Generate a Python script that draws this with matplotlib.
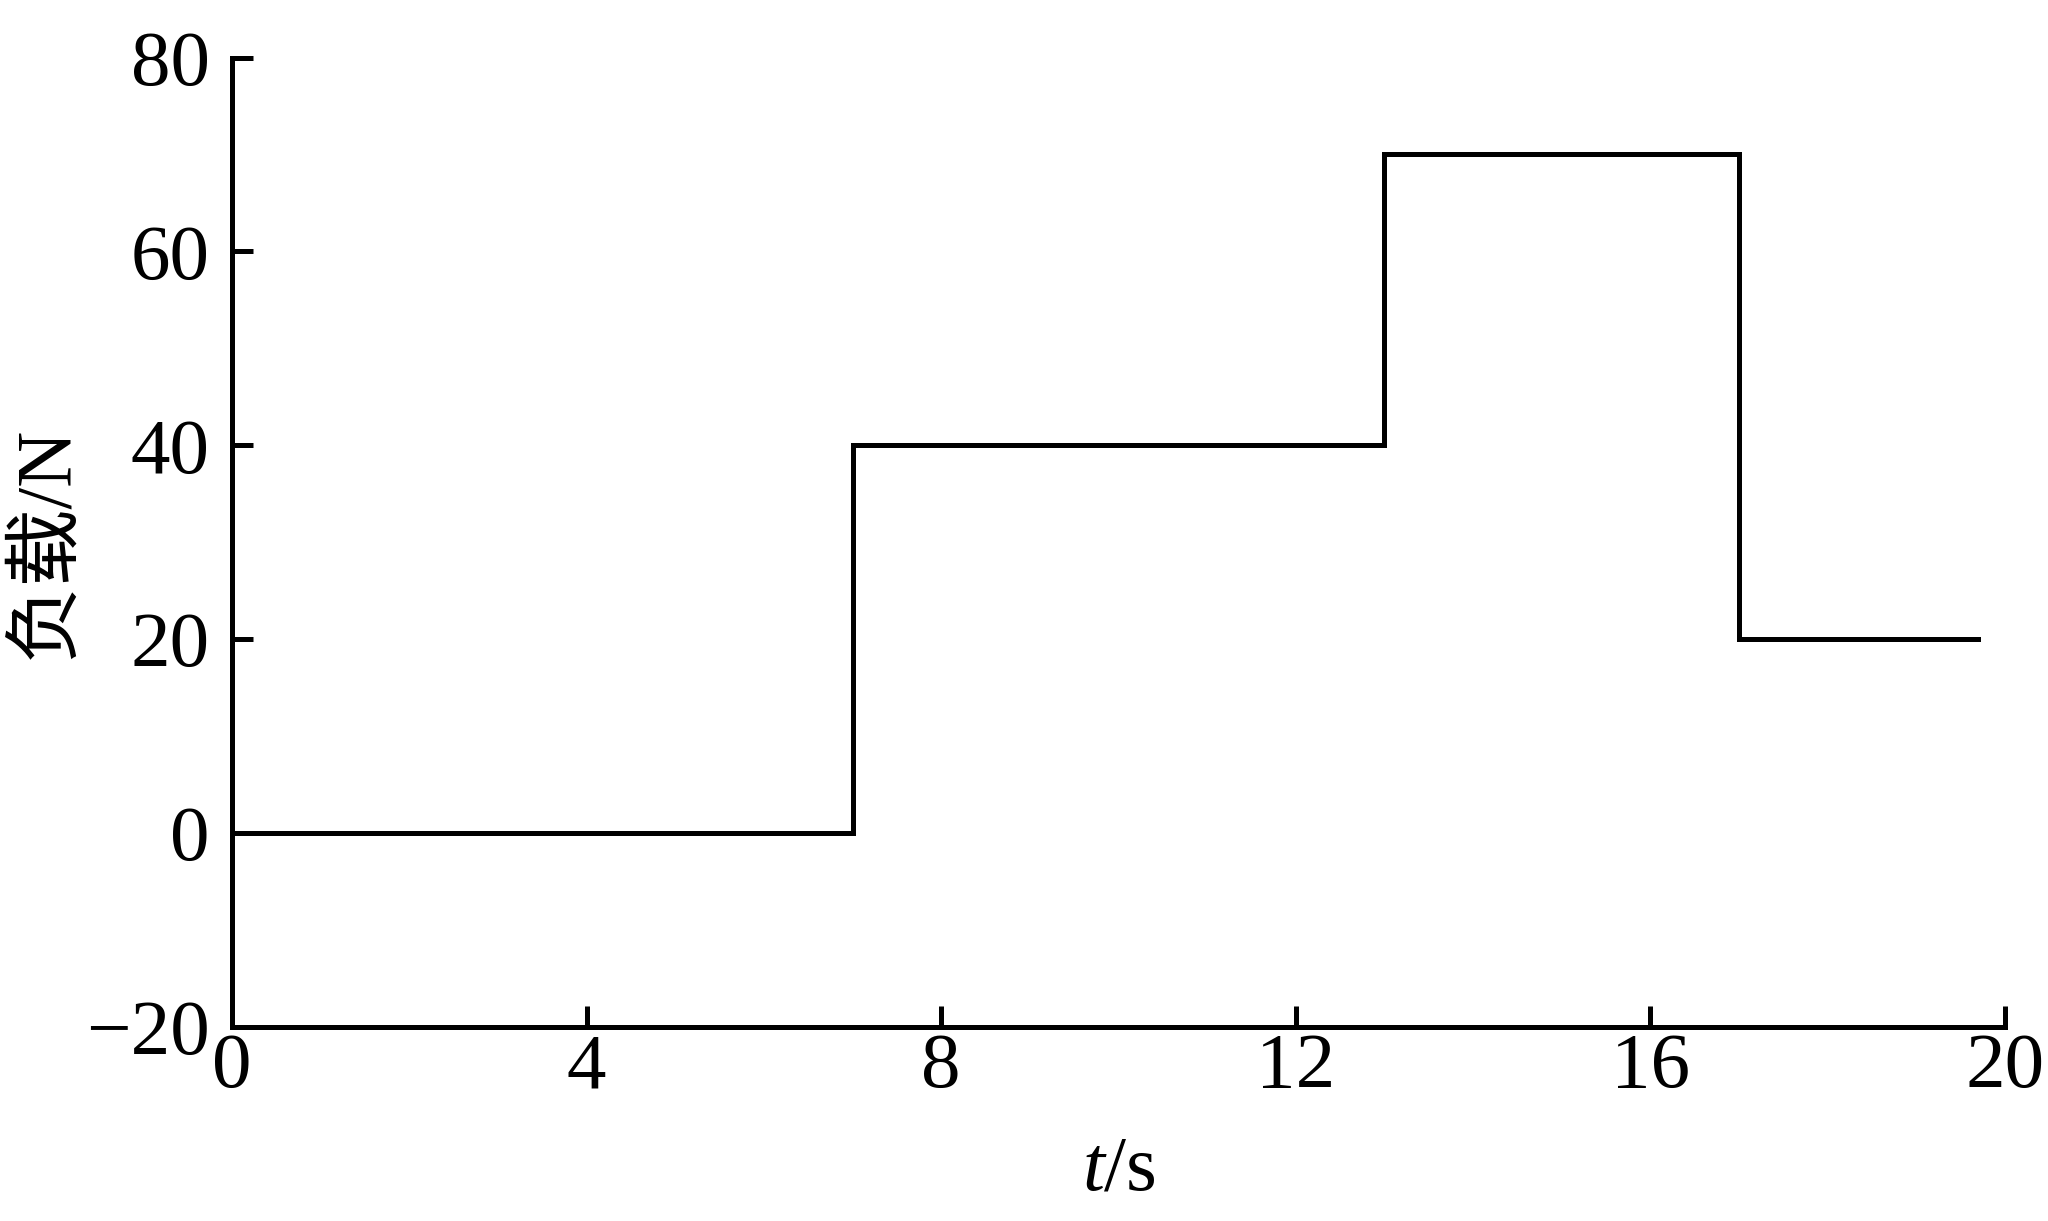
import matplotlib
matplotlib.use("Agg")
import matplotlib.pyplot as plt

# Data
t_edges = [0, 7, 13, 17, 19.7]
load_values = [0, 40, 70, 20]
x_ticks = [0, 4, 8, 12, 16, 20]
y_ticks = [-20, 0, 20, 40, 60, 80]

plt.rcParams['font.family'] = ['Liberation Serif', 'Noto Sans CJK SC']
plt.rcParams['mathtext.fontset'] = 'custom'
plt.rcParams['mathtext.rm'] = 'Liberation Serif'
plt.rcParams['mathtext.it'] = 'Liberation Serif:italic'

fig = plt.figure(figsize=(20.48, 12.21), dpi=100)
ax = fig.add_axes([0.1133, 0.1589, 0.979 - 0.1133, 0.9529 - 0.1589])

xs = []
ys = []
for i, v in enumerate(load_values):
    xs += [t_edges[i], t_edges[i + 1]]
    ys += [v, v]
ax.plot(xs, ys, color='black', lw=3.6, solid_joinstyle='miter')

ax.set_xlim(0, 20)
ax.set_ylim(-20, 80)
ax.set_xticks(x_ticks)
ax.set_yticks(y_ticks)
for s in ['top', 'right']:
    ax.spines[s].set_visible(False)
for s in ['left', 'bottom']:
    ax.spines[s].set_linewidth(3.6)
ax.tick_params(direction='in', length=15, width=3.6, labelsize=57)
ax.tick_params(axis='x', pad=4)
ax.tick_params(axis='y', pad=16)

ax.set_xlabel('$t$/s', fontsize=57, labelpad=22)
ax.set_ylabel('负载/N', fontsize=56, labelpad=2,
              family=['Liberation Serif', 'Noto Sans CJK SC'])

fig.savefig('out.png', dpi=100, facecolor='white')
